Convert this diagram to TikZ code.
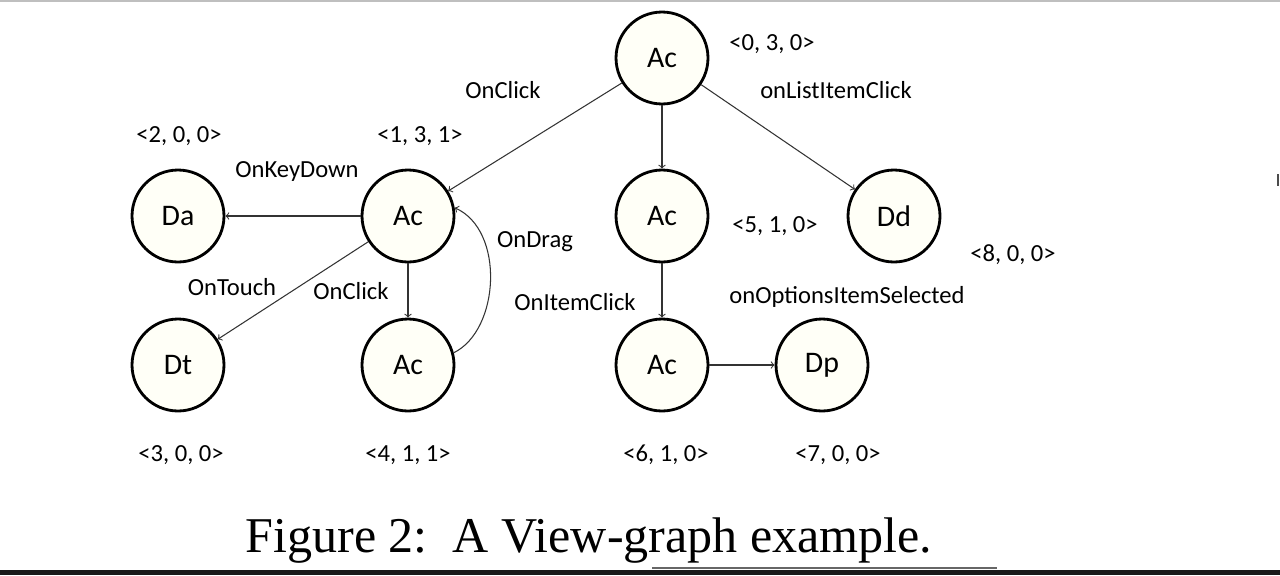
\documentclass[tikz,border=0pt]{standalone}
\usepackage{fontspec}
\setmainfont{Carlito}
\newfontfamily\capfont{Liberation Serif}
\begin{document}
\begin{tikzpicture}[x=0.02cm,y=-0.02cm,
  st/.style={circle,draw,line width=1.6pt,fill=white!97!yellow,minimum size=1.84cm,inner sep=0pt,font=\fontsize{17}{17}\selectfont},
  lb/.style={font=\fontsize{14}{14}\selectfont,inner sep=0pt},
  ed/.style={->,>=to,line width=0.6pt,draw=black!80}]
\useasboundingbox (0,0) rectangle (1280,575);
\draw[black!25,line width=1pt] (0,1) -- (1280,1);
\fill[black!90] (0,570) rectangle (1280,575);
\draw[black!60,line width=0.8pt] (652,568) -- (997,568);
\draw[black!70,line width=0.6pt] (1278,174) -- (1278,186);
\node[st] (a0) at (662,58) {Ac};
\node[st] (a1) at (408,216) {Ac};
\node[st] (da) at (178,216) {Da};
\node[st] (dt) at (178,365) {Dt};
\node[st] (a4) at (408,365) {Ac};
\node[st] (a5) at (662,216) {Ac};
\node[st] (dd) at (894,216) {Dd};
\node[st] (a6) at (662,365) {Ac};
\node[st] (dp) at (822,365) {Dp};
\draw[ed] (a0) -- (a1);
\draw[ed] (a0) -- (a5);
\draw[ed] (a0) -- (dd);
\draw[ed] (a1) -- (da);
\draw[ed] (a1) -- (dt);
\draw[ed] (a1) -- (a4);
\draw[ed] (a5) -- (a6);
\draw[ed] (a6) -- (dp);
\draw[ed] (a4.15) .. controls (500,330) and (505,230) .. (a1.10);
\node[lb] (l1) at (772,44) {<0, 3, 0>};
\node[lb] (l2) at (503,90) {OnClick};
\node[lb] (l3) at (836,90) {onListItemClick};
\node[lb] (l4) at (179,136) {<2, 0, 0>};
\node[lb] (l5) at (420,136) {<1, 3, 1>};
\node[lb] (l6) at (297,171) {OnKeyDown};
\node[lb] (l7) at (535,242) {OnDrag};
\node[lb] (l8) at (775,226) {<5, 1, 0>};
\node[lb] (l9) at (1013,255) {<8, 0, 0>};
\node[lb] (l10) at (232,287) {OnTouch};
\node[lb] (l11) at (351,291) {OnClick};
\node[lb] (l12) at (575,302) {OnItemClick};
\node[lb] (l13) at (847,297) {onOptionsItemSelected};
\node[lb] (l14) at (181,455) {<3, 0, 0>};
\node[lb] (l15) at (408,455) {<4, 1, 1>};
\node[lb] (l16) at (666,455) {<6, 1, 0>};
\node[lb] (l17) at (838,455) {<7, 0, 0>};
\node[inner sep=0pt,font=\capfont\fontsize{28.5}{28.5}\selectfont] (cap) at (589,541) {Figure 2:\, A View-graph example.};
\end{tikzpicture}
\end{document}
